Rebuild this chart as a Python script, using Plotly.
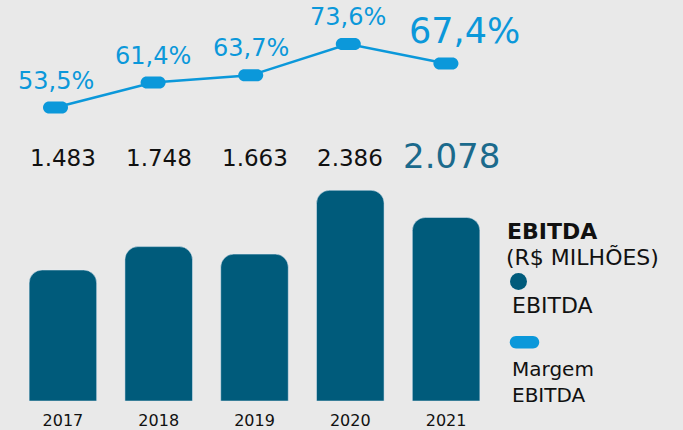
import plotly.graph_objects as go

years = ["2017", "2018", "2019", "2020", "2021"]
ebitda = [1483, 1748, 1663, 2386, 2078]
margem = [53.5, 61.4, 63.7, 73.6, 67.4]

BG = "#e9e9e9"
BAR = "#005b7b"
LINE = "#0b98da"
FONT = "DejaVu Sans"
H = 403  # plot area height in px (bottom margin holds the year labels)


def capsule(a, r):
    # rounded pill path centred on the anchor, in pixels
    k = 0.5523 * r
    return (
        f"M {-a},{-r} L {a},{-r} "
        f"C {a + k},{-r} {a + r},{-k} {a + r},0 "
        f"C {a + r},{k} {a + k},{r} {a},{r} "
        f"L {-a},{r} "
        f"C {-a - k},{r} {-a - r},{k} {-a - r},0 "
        f"C {-a - r},{-k} {-a - k},{-r} {-a},{-r} Z"
    )


fig = go.Figure()
fig.add_trace(go.Bar(x=years, y=ebitda, marker_color=BAR, xaxis="x", yaxis="y", hoverinfo="skip"))
fig.add_trace(go.Scatter(x=years, y=margem, mode="lines", line=dict(color=LINE, width=2.5),
                         xaxis="x2", yaxis="y2", hoverinfo="skip"))

shapes = []
annotations = []
for i, (v, m) in enumerate(zip(ebitda, margem)):
    last = i == len(years) - 1
    shapes.append(dict(type="path", xref="x2", yref="y2", xsizemode="pixel", ysizemode="pixel",
                       xanchor=i, yanchor=m, path=capsule(6.5, 6),
                       fillcolor=LINE, line=dict(width=0)))
    annotations.append(dict(
        x=i, xref="x", y=(H - 159) / H, yref="paper", yanchor="middle", showarrow=False,
        text=f"{v:,}".replace(",", "."),
        font=dict(family=FONT, size=34 if last else 23, color="#1b6a8c" if last else "#111"),
        xshift=5 if last else 0, yshift=2 if last else 0))
    annotations.append(dict(
        x=i, xref="x2", y=m, yref="y2", yanchor="middle", showarrow=False,
        text=f"{m:.1f}%".replace(".", ","),
        font=dict(family=FONT, size=35 if last else 24, color=LINE),
        xshift=19 if last else 0, yshift=33 if last else 27))

# legend built by hand: marker above the text
legend_items = [
    ("<b>EBITDA</b>", 233, 505, 22), ("(R$ MILHÕES)", 258, 504, 22), ("EBITDA", 307, 510, 22),
    ("Margem<br>EBITDA", 384, 510, 20),
]
for txt, py, px_, sz in legend_items:
    annotations.append(dict(x=px_ / 683, xref="paper", y=(H - py) / H, yref="paper",
                            xanchor="left", yanchor="middle", align="left", showarrow=False,
                            text=txt, font=dict(family=FONT, size=sz, color="#111")))
shapes.append(dict(type="circle", xref="paper", yref="paper", xsizemode="pixel", ysizemode="pixel",
                   xanchor=518.5 / 683, yanchor=(H - 283) / H, x0=-8.5, x1=8.5, y0=-8.5, y1=8.5,
                   fillcolor=BAR, line=dict(width=0)))
shapes.append(dict(type="path", xref="paper", yref="paper", xsizemode="pixel", ysizemode="pixel",
                   xanchor=524.5 / 683, yanchor=(H - 344) / H, path=capsule(8.5, 6.2),
                   fillcolor=LINE, line=dict(width=0)))

fig.update_layout(
    width=683, height=430,
    margin=dict(l=0, r=0, t=0, b=430 - H),
    paper_bgcolor=BG, plot_bgcolor=BG,
    showlegend=False,
    bargap=0.295,
    barcornerradius=13,
    font=dict(family=FONT, color="#111"),
    xaxis=dict(type="category", range=[-0.6566, 6.473], showgrid=False, zeroline=False,
               showline=False, ticks="", ticklabelstandoff=8,
               tickfont=dict(size=16, color="#111")),
    xaxis2=dict(type="category", range=[-0.5686, 6.429], overlaying="x", visible=False),
    yaxis=dict(range=[0, 4540], visible=False),
    yaxis2=dict(range=[-39.3, 87.5], overlaying="y", visible=False),
    shapes=shapes,
    annotations=annotations,
)

fig.write_html("out.html", config={"displayModeBar": False},
               post_script="document.body.style.margin='0';"
                           "document.body.style.background='#e9e9e9';")
